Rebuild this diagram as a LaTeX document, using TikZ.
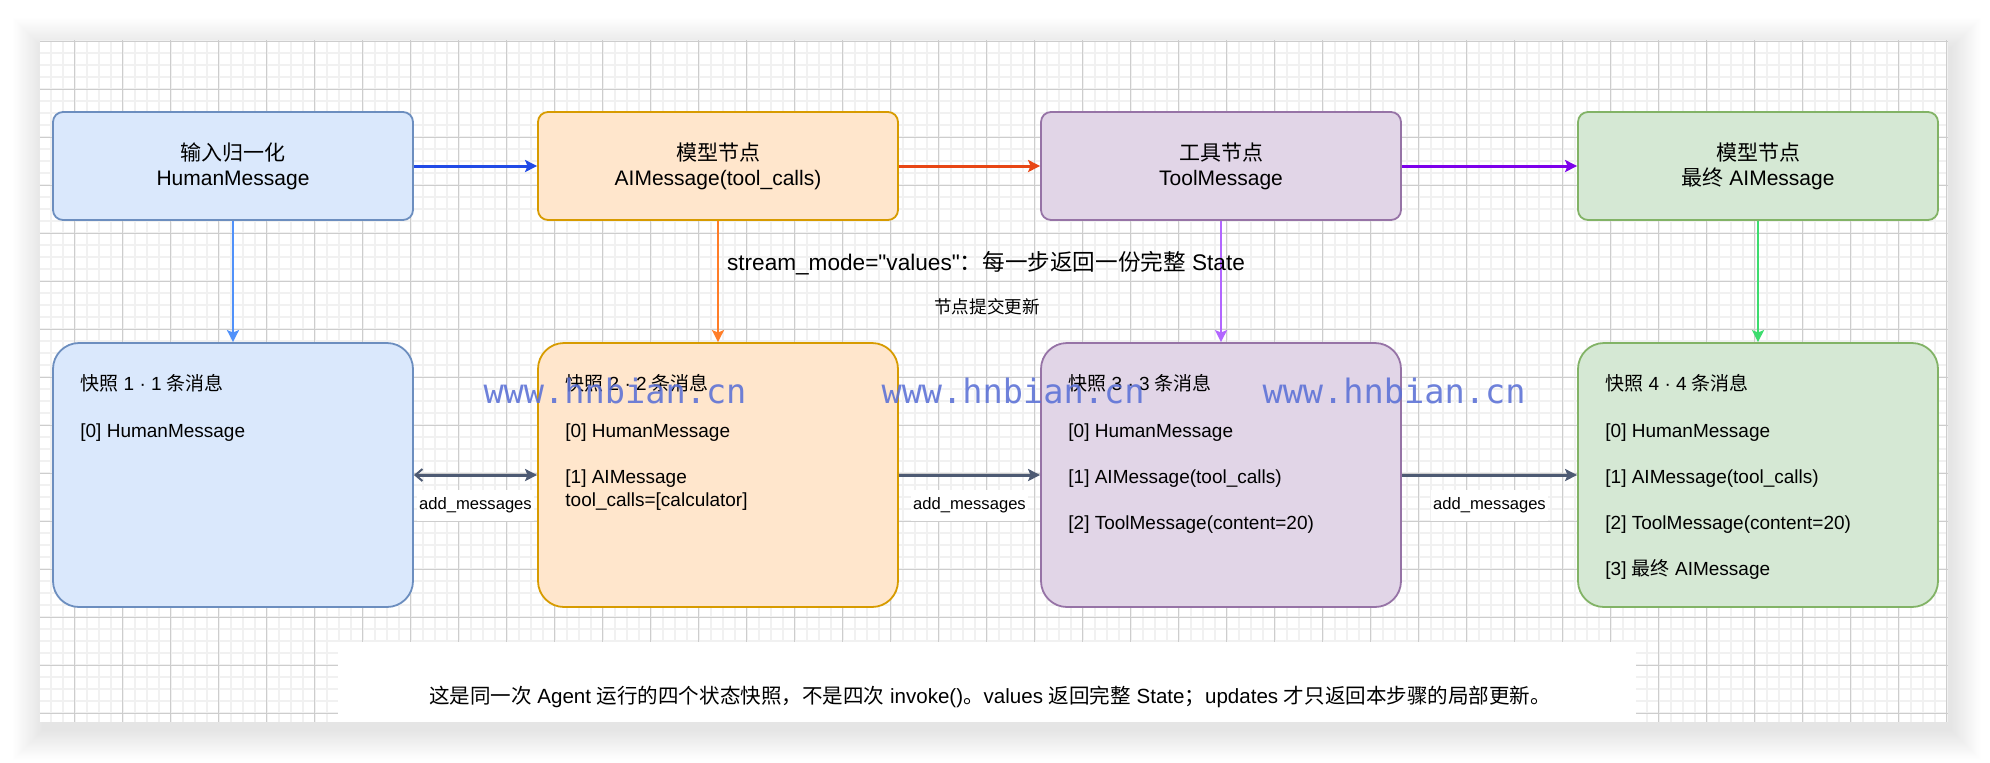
\documentclass[tikz,border=0pt]{standalone}
\usepackage{fontspec}
\setmainfont{Liberation Sans}
\newfontfamily\plainlat{Liberation Sans}
\newfontfamily\cjk{Noto Sans CJK SC}
\newfontfamily\wmfont{DejaVu Sans Mono}
\usetikzlibrary{arrows.meta}
\newcommand{\zh}[1]{{\cjk #1}}
\newcommand{\dq}{{\plainlat\char34\relax}}
\definecolor{bfill}{HTML}{DAE8FC}\definecolor{bline}{HTML}{6C8EBF}
\definecolor{ofill}{HTML}{FFE6CC}\definecolor{oline}{HTML}{D79B00}
\definecolor{pfill}{HTML}{E1D5E7}\definecolor{pline}{HTML}{9673A6}
\definecolor{gfill}{HTML}{D5E8D4}\definecolor{gline}{HTML}{82B366}
\definecolor{arA}{HTML}{204AE6}\definecolor{arB}{HTML}{E84614}\definecolor{arC}{HTML}{7D00EB}
\definecolor{vA}{HTML}{5091FA}\definecolor{vB}{HTML}{FF7D28}\definecolor{vC}{HTML}{B266FF}\definecolor{vD}{HTML}{3CDC6E}
\definecolor{slate}{HTML}{4D5A73}
\definecolor{gridminor}{HTML}{F1F1F1}\definecolor{gridmajor}{HTML}{CDCDCD}
\definecolor{wmblue}{RGB}{90,112,214}
\tikzset{
  topbox/.style={rounded corners=5pt, minimum width=180pt, minimum height=54pt, inner sep=0pt,
    align=center, line width=0.9pt, font=\fontsize{10.5pt}{12.6pt}\selectfont},
  snapbox/.style={rounded corners=13pt, minimum width=180pt, minimum height=132pt, inner sep=0pt, line width=0.9pt},
  itm/.style={anchor=base west, inner sep=0pt, font=\fontsize{9.5pt}{11.5pt}\selectfont},
  tipA/.tip={Stealth[length=6pt, width=6pt, inset=1.2pt]},
  harrow/.style={line width=1.5pt, -tipA},
  varrow/.style={line width=1pt, -tipA},
  barrow/.style={line width=1.5pt, draw=slate, -tipA},
  lbl/.style={fill=white, inner xsep=1pt, inner ysep=4pt, font=\fontsize{8.3pt}{10pt}\selectfont},
  wm/.style={text=wmblue, opacity=0.88, inner sep=0pt, anchor=base, font=\wmfont\fontsize{16.8pt}{18pt}\selectfont},
}
\begin{document}
\begin{tikzpicture}[x=0.5pt,y=-0.5pt]
\useasboundingbox (0,0) rectangle (1990,762);
\fill[white] (0,0) rectangle (1990,762);
% soft shadow around the canvas
\foreach \i in {1,...,26}{
  \fill[black, fill opacity=0.0045] ({40-1.15*\i+3},{40-1.15*\i+8}) rectangle ({1948+1.15*\i+3},{722+1.15*\i+8});
}
% canvas with grid
\fill[white] (40,40) rectangle (1948,722);
\begin{scope}
  \clip (40,40) rectangle (1948,722);
  \foreach \i in {0,...,160}{\draw[gridminor, line width=0.9pt] ({26.7+12*\i},40) -- ({26.7+12*\i},722);}
  \foreach \i in {0,...,57}{\draw[gridminor, line width=0.9pt] (40,{41+12*\i}) -- (1948,{41+12*\i});}
  \foreach \i in {0,...,40}{\draw[gridmajor, line width=0.5pt] ({26.7+48*\i},40) -- ({26.7+48*\i},722);}
  \foreach \i in {0,...,14}{\draw[gridmajor, line width=0.5pt] (40,{41+48*\i}) -- (1948,{41+48*\i});}
\end{scope}
% caption background
\fill[white] (338,642) rectangle (1636,722);

% top row
\node[topbox, fill=bfill, draw=bline] (t1) at (233,166) {\zh{输入归一化}\\HumanMessage};
\node[topbox, fill=ofill, draw=oline] (t2) at (718,166) {\zh{模型节点}\\AIMessage(tool\_calls)};
\node[topbox, fill=pfill, draw=pline] (t3) at (1221,166) {\zh{工具节点}\\ToolMessage};
\node[topbox, fill=gfill, draw=gline] (t4) at (1758,166) {\zh{模型节点}\\\zh{最终} AIMessage};

% bottom row
\node[snapbox, fill=bfill, draw=bline] (s1) at (233,475) {};
\node[snapbox, fill=ofill, draw=oline] (s2) at (718,475) {};
\node[snapbox, fill=pfill, draw=pline] (s3) at (1221,475) {};
\node[snapbox, fill=gfill, draw=gline] (s4) at (1758,475) {};

% snapshot texts
\node[itm] (s1a) at (80,390) {\zh{快照} 1 · 1 \zh{条消息}};
\node[itm] (s1b) at (80,437) {[0] HumanMessage};

\node[itm] (s2a) at (565,390) {\zh{快照} 2 · 2 \zh{条消息}};
\node[itm] (s2b) at (565,437) {[0] HumanMessage};
\node[itm] (s2c) at (565,483) {[1] AIMessage};
\node[itm] (s2d) at (565,506) {tool\_calls=[calculator]};

\node[itm] (s3a) at (1068,390) {\zh{快照} 3 · 3 \zh{条消息}};
\node[itm] (s3b) at (1068,437) {[0] HumanMessage};
\node[itm] (s3c) at (1068,483) {[1] AIMessage(tool\_calls)};
\node[itm] (s3d) at (1068,529) {[2] ToolMessage(content=20)};

\node[itm] (s4a) at (1605,390) {\zh{快照} 4 · 4 \zh{条消息}};
\node[itm] (s4b) at (1605,437) {[0] HumanMessage};
\node[itm] (s4c) at (1605,483) {[1] AIMessage(tool\_calls)};
\node[itm] (s4d) at (1605,529) {[2] ToolMessage(content=20)};
\node[itm] (s4e) at (1605,575) {[3] \zh{最终} AIMessage};

% top connectors
\draw[harrow, arA] (t1) -- (t2);
\draw[harrow, arB] (t2) -- (t3);
\draw[harrow, arC] (t3) -- (t4);

% vertical connectors
\draw[varrow, vA] (t1) -- (s1);
\draw[varrow, vB] (t2) -- (s2);
\draw[varrow, vC] (t3) -- (s3);
\draw[varrow, vD] (t4) -- (s4);

% bottom connectors
\draw[barrow, {Straight Barb[length=3.5pt, width=6pt, line width=1pt]}-tipA] (s1) -- (s2)
  node[lbl, midway, yshift=-15.3pt] (l1) {add\_messages};
\draw[barrow] (s2) -- (s3) node[lbl, midway, yshift=-15.3pt] (l2) {add\_messages};
\draw[barrow] (s3) -- (s4) node[lbl, midway, yshift=-15.3pt] (l3) {add\_messages};

% middle labels
\node[inner sep=0pt, font=\fontsize{11.3pt}{13pt}\selectfont] (mode) at (986,263)
  {stream\_mode=\dq values\dq\zh{：每一步返回一份完整} State};
\node[inner sep=0pt, font=\fontsize{8.8pt}{10pt}\selectfont] (commit) at (987,307) {\zh{节点提交更新}};

% caption
\node[inner sep=0pt, anchor=base, font=\fontsize{10.27pt}{12pt}\selectfont] (cap) at (990,703)
  {\zh{这是同一次} Agent \zh{运行的四个状态快照，不是四次} invoke()\zh{。}values \zh{返回完整} State\zh{；}updates \zh{才只返回本步骤的局部更新。}};

% watermark
\node[wm] (w1) at (615,403) {www.hnbian.cn};
\node[wm] (w2) at (1013,403) {www.hnbian.cn};
\node[wm] (w3) at (1394,403) {www.hnbian.cn};
\end{tikzpicture}
\end{document}
